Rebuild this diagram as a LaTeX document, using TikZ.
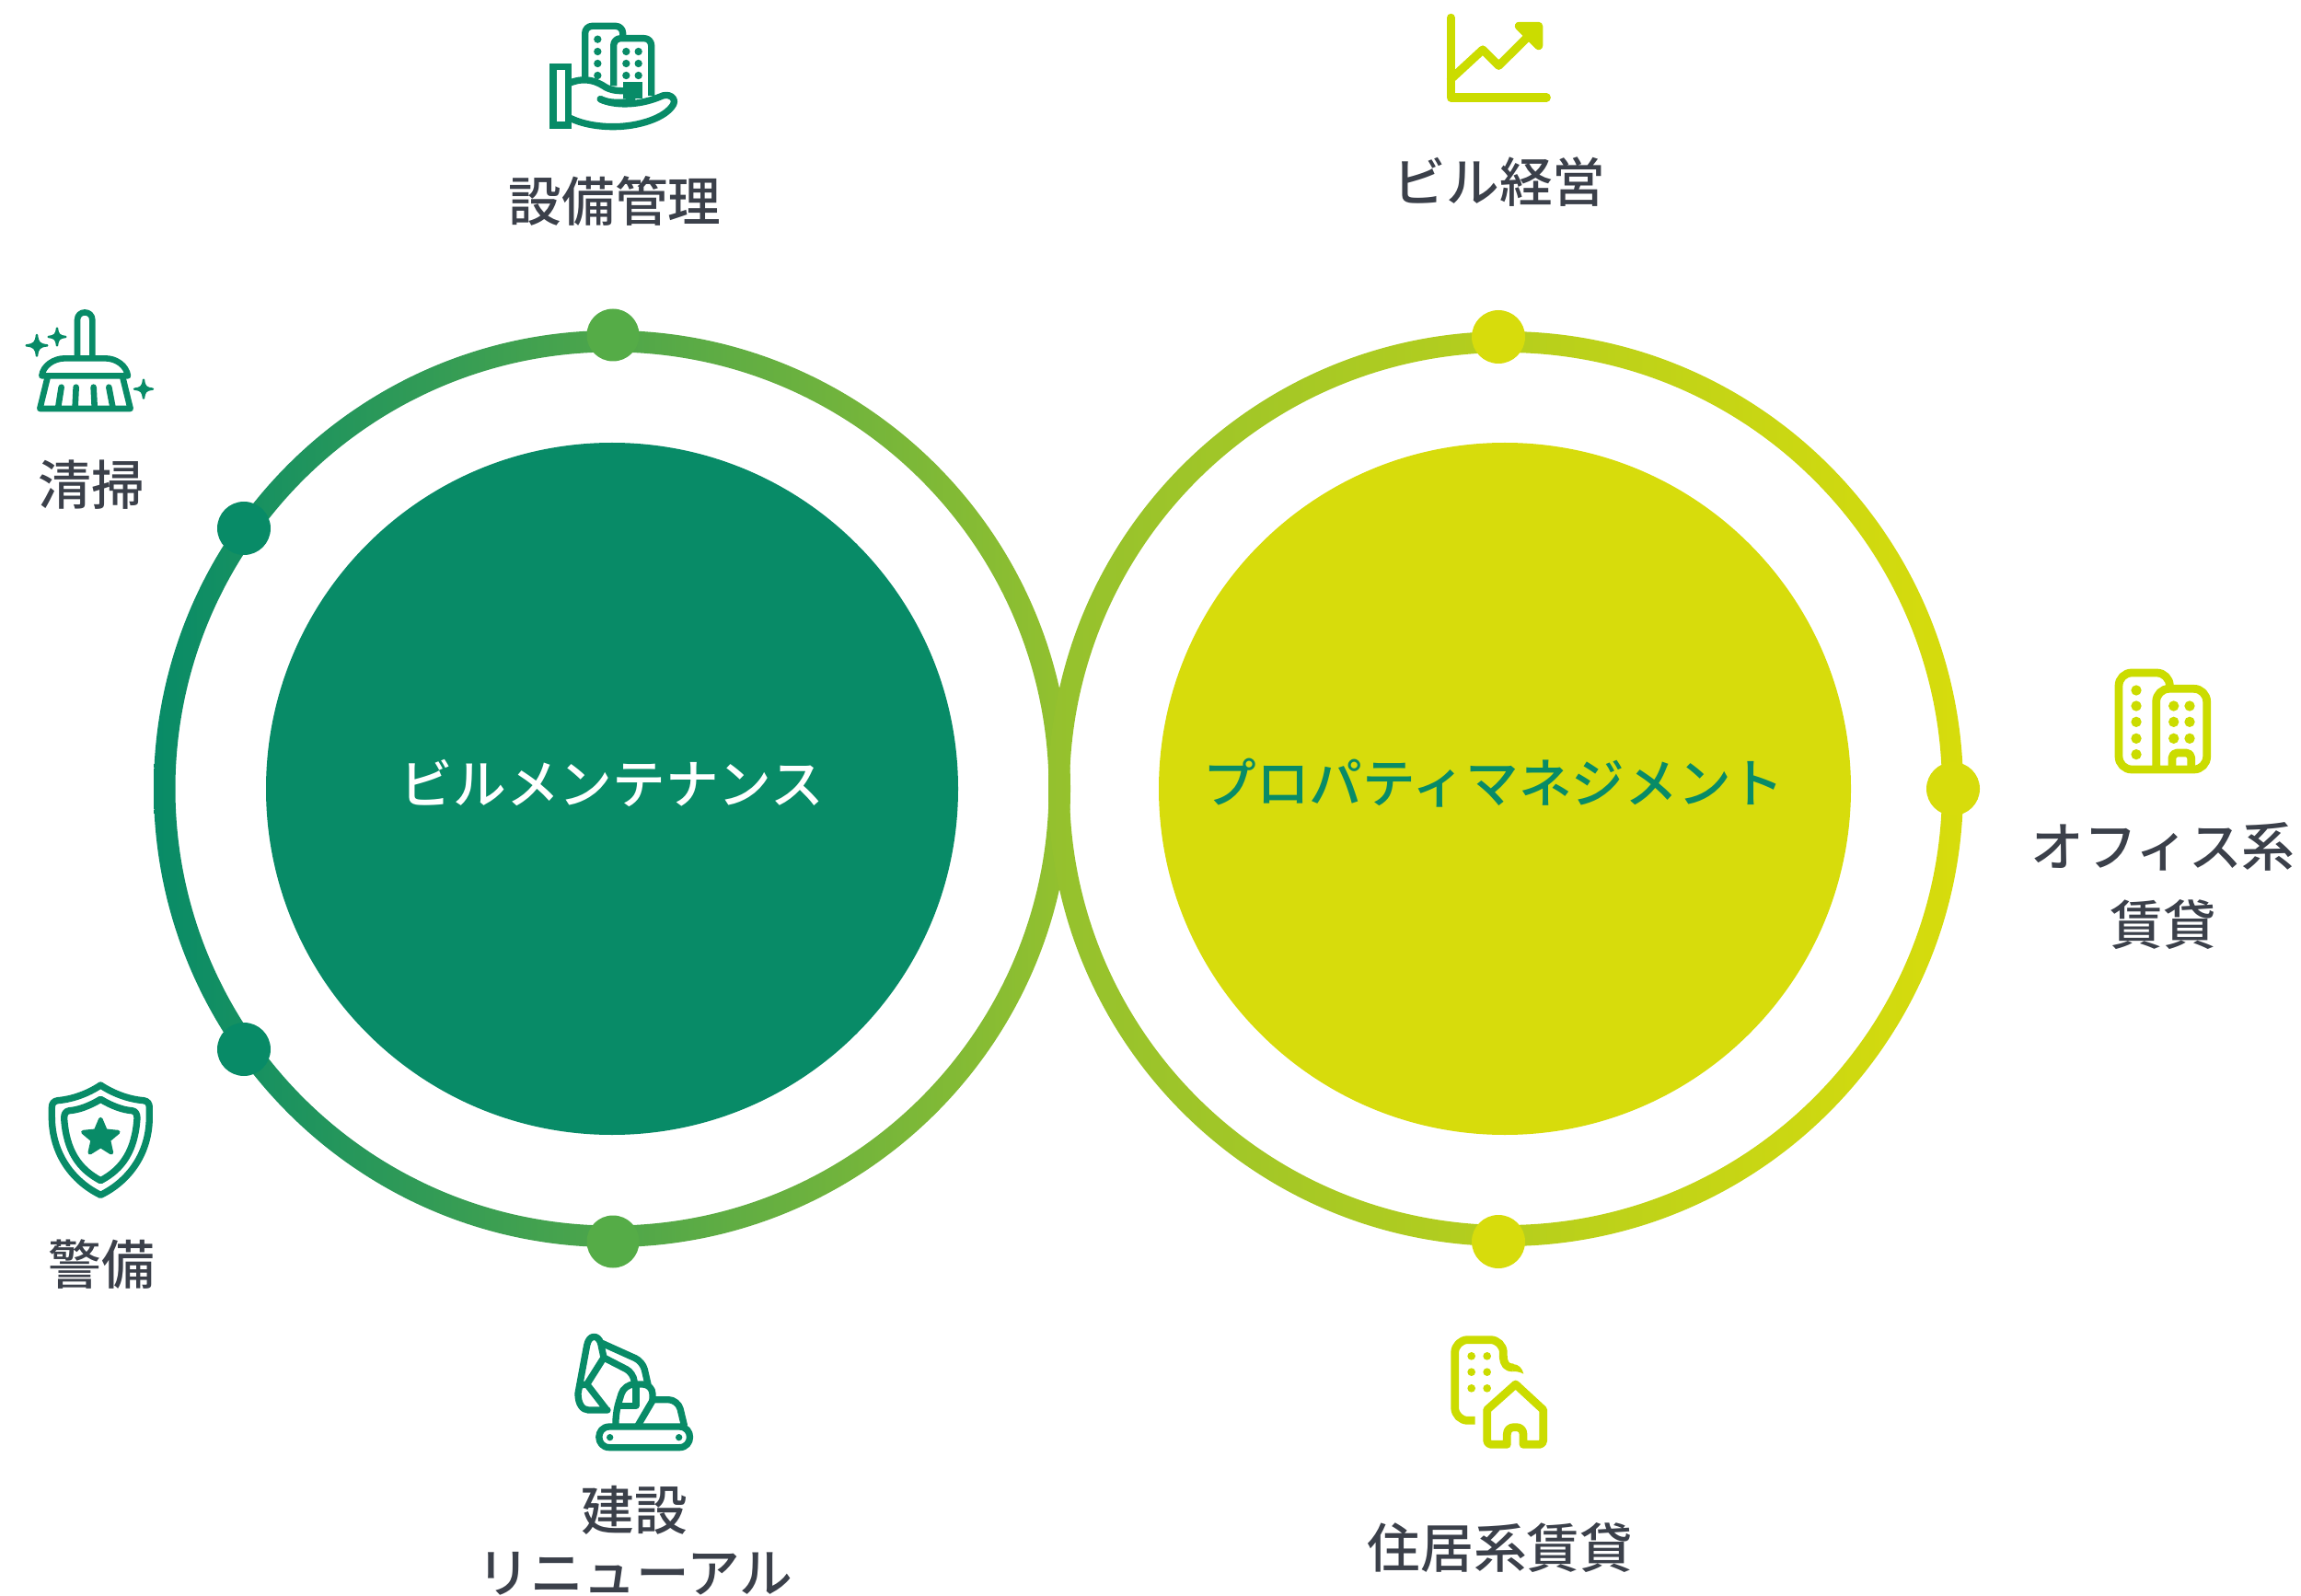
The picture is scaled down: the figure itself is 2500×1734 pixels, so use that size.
\documentclass[tikz,border=0pt]{standalone}
\usepackage{fontspec}
\setmainfont{Noto Sans CJK JP}[UprightFont={* Medium}]
\definecolor{dkgreen}{HTML}{088B67}
\definecolor{midgreen}{HTML}{55AC47}
\definecolor{joingreen}{HTML}{94C12E}
\definecolor{ringlime}{HTML}{D7DC0C}
\definecolor{iconlime}{HTML}{CBDC00}
\definecolor{txtdark}{HTML}{3B404A}
\tikzset{
  lbl/.style={text=txtdark,font=\fontsize{16.4}{20}\selectfont,inner sep=0pt,anchor=center},
  zoomat/.style 2 args={shift={(#1,#2)},scale=1/3},
  ic/.style={line width=#1*0.104pt,line cap=round,line join=round},
  ic/.default=20,
}
\newcommand{\spark}[4]{%
  \begin{scope}[shift={(#1,#2)},scale=#3]
    \fill[#4,draw=#4,line width=0.7pt,line join=round] (-1,0) .. controls (-.25,-.08) and (-.08,-.25) .. (0,-1) .. controls (.08,-.25) and (.25,-.08) .. (1,0) .. controls (.25,.08) and (.08,.25) .. (0,1) .. controls (-.08,.25) and (-.25,.08) .. (-1,0) -- cycle;
  \end{scope}}
\begin{document}
\begin{tikzpicture}[x=0.01cm,y=-0.01cm]
\useasboundingbox (0,0) rectangle (2500,1734);
% inner discs
\fill[dkgreen] (665,857) circle[radius=376];
\fill[ringlime] (1635,857) circle[radius=376];
% rings
\path[even odd rule,left color=dkgreen,right color=joingreen] (665,857) circle[radius=498] (665,857) circle[radius=474.5];
\path[even odd rule,left color=joingreen,right color=ringlime] (1636,857) circle[radius=497] (1636,857) circle[radius=474];
% dots
\fill[midgreen] (666,364) circle[radius=28.5];
\fill[midgreen] (666,1349) circle[radius=28.5];
\fill[dkgreen] (265,574) circle[radius=29];
\fill[dkgreen] (265,1140) circle[radius=29];
\fill[ringlime] (1628,366) circle[radius=29];
\fill[ringlime] (1628,1349) circle[radius=29];
\fill[ringlime] (2122,857) circle[radius=29];
% labels
\node[lbl,text=white] (bm) at (665,851) {ビルメンテナンス};
\node[lbl,text=dkgreen] (pm) at (1623,851) {プロパティマネジメント};
\node[lbl] (l1) at (668,218) {設備管理};
\node[lbl] (l2) at (1629,198) {ビル経営};
\node[lbl] (l3) at (99,527) {清掃};
\node[lbl] (l4) at (110,1374) {警備};
\node[lbl] (l5) at (689,1641) {建設};
\node[lbl] (l6) at (690,1710) {リニューアル};
\node[lbl] (l7) at (1630,1682) {住居系賃貸};
\node[lbl] (l8) at (2350,920) {オフィス系};
\node[lbl] (l9) at (2350,1005) {賃貸};
% icon: buildings on hand
\begin{scope}[zoomat={560}{0},dkgreen]
  \draw[ic,line cap=butt,line join=miter] (123,217) rectangle (173,408);
  \draw[ic,rounded corners=2.2pt,line cap=butt] (227,258) -- (227,85) -- (350,85) -- (350,125);
  \draw[ic,rounded corners=2.2pt,line cap=butt] (320,280) -- (320,125) -- (443,125) -- (443,312);
  \foreach \yy in {128,168,207,246} \fill (268,\yy) circle[radius=12.5];
  \foreach \xx in {361,401} \foreach \yy in {168,207,246} \fill (\xx,\yy) circle[radius=12.5];
  \fill (352,268) rectangle (413,322);
  \draw[ic] (178,270) .. controls (230,250) and (265,265) .. (295,285) .. controls (320,298) and (345,296) .. (365,296) .. controls (385,298) and (390,330) .. (360,333) .. controls (330,335) and (300,335) .. (277,323);
  \draw[ic] (277,323) .. controls (320,345) and (400,345) .. (470,316) .. controls (500,300) and (525,320) .. (515,340) .. controls (490,385) and (400,413) .. (320,413) .. controls (270,413) and (220,405) .. (178,385);
\end{scope}
% icon: chart
\begin{scope}[zoomat={1540}{0},iconlime]
  \draw[ic=25] (109,58) -- (109,318) -- (421,318);
  \draw[ic=25] (109,258) -- (213,162) -- (265,214) -- (370,110);
  \fill[draw=iconlime,ic=25] (331,85) -- (395,85) -- (395,149) -- cycle;
\end{scope}
% icon: broom
\begin{scope}[zoomat={0}{320},dkgreen]
  \draw[ic=18,line cap=butt] (252,205) -- (252,83) .. controls (252,50) and (301,50) .. (301,83) -- (301,205);
  \draw[ic=18] (136,265) .. controls (140,232) and (175,208) .. (212,208) -- (342,208) .. controls (380,208) and (412,232) .. (417,265) -- cycle;
  \draw[ic=18] (155,270) -- (130,372) -- (425,372) -- (400,270);
  \draw[ic=18] (200,302) -- (190,365);
  \draw[ic=18] (248,302) -- (245,365);
  \draw[ic=18] (305,302) -- (308,365);
  \draw[ic=18] (355,302) -- (367,365);
  \spark{120}{166}{34}{dkgreen}
  \spark{186}{138}{28}{dkgreen}
  \spark{468}{308}{30}{dkgreen}
\end{scope}
% icon: shield
\begin{scope}[zoomat={30}{1160},dkgreen]
  \draw[ic] (238,57) .. controls (280,85) and (330,103) .. (378,107) .. controls (392,109) and (397,118) .. (397,130) -- (397,160) .. controls (397,280) and (330,370) .. (238,415) .. controls (146,370) and (79,280) .. (79,160) -- (79,130) .. controls (79,118) and (84,109) .. (98,107) .. controls (146,103) and (196,85) .. (238,57) -- cycle;
  \draw[ic] (238,103) .. controls (275,125) and (310,138) .. (340,140) .. controls (352,142) and (357,150) .. (357,165) .. controls (350,270) and (310,330) .. (238,368) .. controls (166,330) and (126,270) .. (119,165) .. controls (119,150) and (124,142) .. (136,140) .. controls (166,138) and (201,125) .. (238,103) -- cycle;
  \fill[draw=dkgreen,ic=12] (238,168) -- (254,206) -- (295,210) -- (264,236) -- (273,277) -- (238,255) -- (203,277) -- (212,236) -- (181,210) -- (222,206) -- cycle;
\end{scope}
% icon: excavator
\begin{scope}[zoomat={600}{1430},dkgreen]
  \draw[ic] (187,360) -- (414,360) .. controls (460,360) and (460,428) .. (414,428) -- (187,428) .. controls (141,428) and (141,360) .. (187,360) -- cycle;
  \fill (188,395) circle[radius=11];
  \fill (413,395) circle[radius=11];
  \draw[ic,rounded corners=3pt] (207,355) -- (207,312) -- (235,222) -- (327,222) -- (327,272);
  \draw[ic,rounded corners=3pt] (327,272) -- (410,272) -- (430,355);
  \draw[ic] (280,355) -- (327,275);
  \draw[ic,line cap=butt] (222,292) -- (273,292) -- (273,222);
  \draw[ic,rounded corners=2.5pt] (162,88) -- (295,148) -- (312,222);
  \draw[ic,rounded corners=2.5pt] (168,135) -- (265,185) -- (268,222);
  \draw[ic] (180,306) -- (118,306) .. controls (98,306) and (84,285) .. (84,252) -- (113,95) .. controls (120,58) and (150,60) .. (158,88) -- (168,135) -- (113,222) -- (178,306);
  \draw[ic] (90,225) -- (113,222);
\end{scope}
% icon: building with house
\begin{scope}[zoomat={1560}{1430},iconlime]
  \draw[ic=24,line cap=butt,rounded corners=4pt] (128,340) -- (62,340) -- (62,77) -- (220,77) -- (220,135);
  \draw[ic=24,line cap=butt] (220,130) .. controls (221,158) and (232,168) .. (252,168);
  \fill (250,156) .. controls (270,156) and (282,170) .. (286,188) .. controls (275,182) and (265,180) .. (250,180) -- cycle;
  \foreach \xx in {116,167} \foreach \yy in {130,182,235} \fill (\xx,\yy) circle[radius=13];
  \draw[ic=24] (232,418) -- (180,418) .. controls (172,418) and (167,412) .. (167,405) -- (167,305) -- (260,222) -- (350,305) -- (350,405) .. controls (350,412) and (345,418) .. (338,418) -- (285,418) -- (285,385) .. controls (285,370) and (275,362) .. (262,362) -- (255,362) .. controls (242,362) and (232,370) .. (232,385) -- cycle;
\end{scope}
% icon: office
\begin{scope}[zoomat={2280}{710},iconlime]
  \draw[ic=24,line cap=butt,rounded corners=4pt] (232,120) -- (232,63) -- (66,63) -- (66,378) -- (353,378) -- (353,115) -- (188,115) -- (188,378);
  \foreach \yy in {120,171,223,277,329} \fill (123,\yy) circle[radius=17];
  \foreach \xx in {245,297} \foreach \yy in {171,223,277} \fill (\xx,\yy) circle[radius=17];
  \draw[ic=24,line cap=butt,rounded corners=1.5pt] (240,378) -- (240,324) -- (302,324) -- (302,378);
\end{scope}
\end{tikzpicture}
\end{document}
